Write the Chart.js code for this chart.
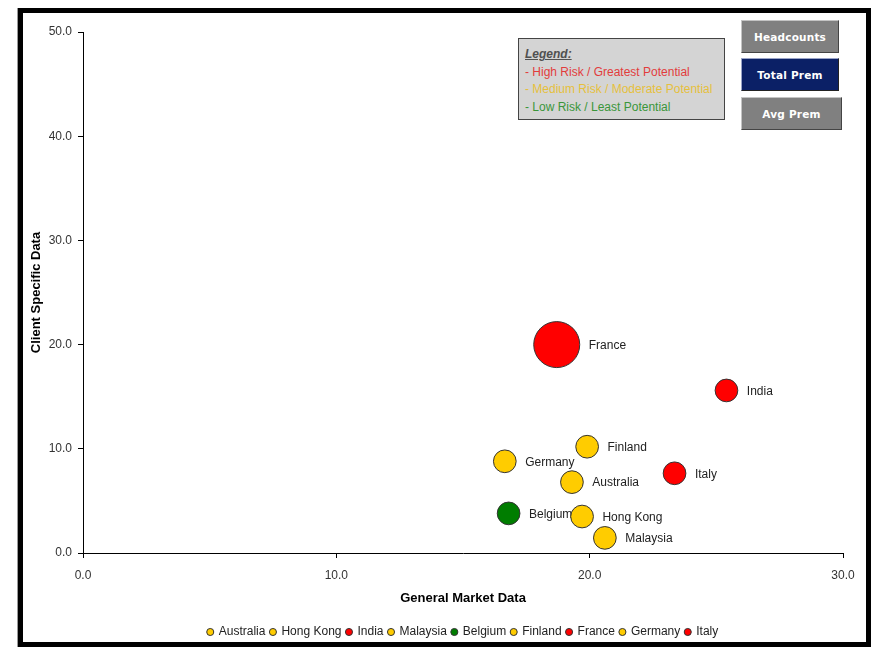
<!DOCTYPE html>
<html>
<head>
<meta charset="utf-8">
<script src="https://cdn.jsdelivr.net/npm/chart.js@4.4.1/dist/chart.umd.min.js"></script>
<style>
html,body{margin:0;padding:0;background:#fff;}
#wrap{position:relative;width:875px;height:647px;overflow:hidden;font-family:"Liberation Sans",Arial,sans-serif;}
#c{position:absolute;left:0;top:0;}
#frame{position:absolute;left:18px;top:8px;width:843px;height:629px;border:5px solid #000;pointer-events:none;box-shadow:-1px 0 0 #9a9a9a;}
#legendBox{position:absolute;left:518px;top:38px;width:199px;height:80px;border:1px solid #444;background:#d4d4d4;padding:0 0 0 6px;box-sizing:content-box;font-size:12px;line-height:17.6px;white-space:nowrap;}
#legendBox .inner{padding-top:7px;}
#legendBox .t{color:#505050;font-weight:bold;font-style:italic;text-decoration:underline;}
.btn{position:absolute;box-sizing:border-box;color:#fff;font-family:"DejaVu Sans",Verdana,sans-serif;font-weight:bold;font-size:10.5px;letter-spacing:0.2px;display:flex;align-items:center;justify-content:center;border:1px solid;border-color:#c4c4c4 #444 #444 #c4c4c4;}
</style>
</head>
<body>
<div id="wrap">
  <canvas id="c" width="875" height="647"></canvas>
  <div id="legendBox"><div class="inner">
    <div class="t">Legend:</div>
    <div style="color:#e23c3c">- High Risk / Greatest Potential</div>
    <div style="color:#e6c03c">- Medium Risk / Moderate Potential</div>
    <div style="color:#3a963a">- Low Risk / Least Potential</div>
  </div></div>
  <div class="btn" style="left:741px;top:20px;width:98px;height:33px;background:#808080;">Headcounts</div>
  <div class="btn" style="left:741px;top:58px;width:98px;height:33px;background:#0b2066;border-color:#9aa4c8 #222 #222 #9aa4c8;">Total Prem</div>
  <div class="btn" style="left:741px;top:97px;width:101px;height:33px;background:#808080;">Avg Prem</div>
  <div id="frame"></div>
</div>
<script>
// ---- data ----
const countries  = ['Australia','Hong Kong','India','Malaysia','Belgium','Finland','France','Germany','Italy'];
const marketData = [19.3, 19.7, 25.4, 20.6, 16.8, 19.9, 18.7, 16.65, 23.35];   // x: General Market Data
const clientData = [6.8, 3.5, 15.6, 1.45, 3.8, 10.2, 20.0, 8.8, 7.65];        // y: Client Specific Data
const totalPrem  = [1.0, 1.0, 1.0, 1.0, 1.0, 1.0, 4.1, 1.0, 1.0];              // bubble size
const riskLevel  = ['Medium','Medium','High','Medium','Low','Medium','High','Medium','High'];
const xAxisRange = [0, 30, 10];   // min, max, step
const yAxisRange = [0, 50, 10];

// ---- styles ----
const riskColors = {High:'#ff0000', Medium:'#ffcc00', Low:'#007d00'};
const MAX_R = 23;
const FONT = '"Liberation Sans", Arial, sans-serif';
Chart.defaults.font.family = FONT;

const maxPrem = Math.max(...totalPrem);
const datasets = countries.map((name, i) => ({
  label: name,
  data: [{x: marketData[i], y: clientData[i], r: MAX_R * Math.sqrt(totalPrem[i] / maxPrem)}],
  backgroundColor: riskColors[riskLevel[i]],
  borderColor: '#333',
  borderWidth: 1,
  pointStyle: 'circle'
}));

const bubbleLabels = {
  id: 'bubbleLabels',
  beforeDatasetsDraw(chart) {
    const ctx = chart.ctx;
    ctx.save();
    ctx.font = '12px ' + FONT;
    ctx.fillStyle = '#222';
    ctx.textAlign = 'left';
    ctx.textBaseline = 'middle';
    chart.data.datasets.forEach((ds, i) => {
      chart.getDatasetMeta(i).data.forEach(el => {
        ctx.fillText(ds.label, el.x + el.options.radius + 9, el.y + 1);
      });
    });
    ctx.restore();
  }
};

new Chart(document.getElementById('c'), {
  type: 'bubble',
  data: {datasets},
  plugins: [bubbleLabels],
  options: {
    responsive: false,
    animation: false,
    events: [],
    devicePixelRatio: 1,
    layout: {padding: {left: 20, right: 32, top: 32, bottom: -1}},
    plugins: {
      legend: {
        position: 'bottom',
        fullSize: false,
        labels: {usePointStyle: true, boxWidth: 5, boxHeight: 5, padding: 5, color: '#222', font: {size: 12}}
      },
      tooltip: {enabled: false}
    },
    scales: {
      x: {
        type: 'linear', min: xAxisRange[0], max: xAxisRange[1],
        ticks: {stepSize: xAxisRange[2], callback: v => v.toFixed(1), color: '#333', font: {size: 12}, padding: 10, maxRotation: 0},
        grid: {drawOnChartArea: false, color: '#000', tickLength: 5},
        border: {color: '#000', width: 1},
        title: {display: true, text: 'General Market Data', color: '#000', font: {size: 13, weight: 'bold'}, padding: {top: 0, bottom: 15}},
        afterFit(s) { s.height = 68; }
      },
      y: {
        type: 'linear', min: yAxisRange[0], max: yAxisRange[1],
        ticks: {stepSize: yAxisRange[2], callback: v => v.toFixed(1), color: '#333', font: {size: 12}, padding: 6},
        grid: {drawOnChartArea: false, color: '#000', tickLength: 5},
        border: {color: '#000', width: 1},
        title: {display: true, text: 'Client Specific Data', color: '#000', font: {size: 13, weight: 'bold'}, padding: {top: 9, bottom: 0}},
        afterFit(s) { s.width = 63; }
      }
    }
  }
});
</script>
</body>
</html>
